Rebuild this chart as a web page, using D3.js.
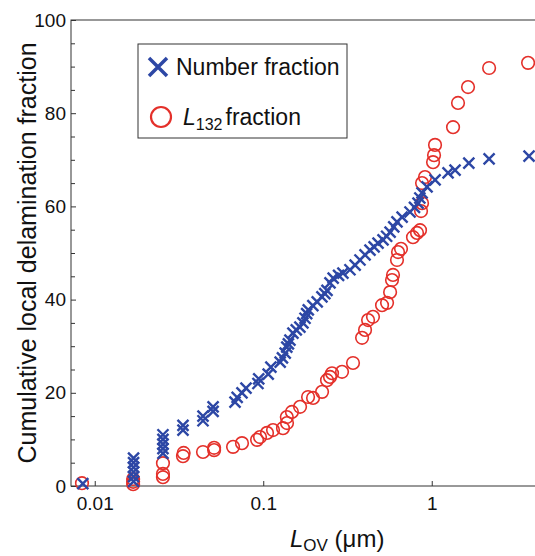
<!DOCTYPE html>
<html>
<head>
<meta charset="utf-8">
<script src="https://cdn.jsdelivr.net/npm/d3@7"></script>
<style>
  body { margin: 0; background: #fff; }
  svg { display: block; font-family: "Liberation Sans", Arial, Helvetica, sans-serif; }
</style>
</head>
<body>
<div id="chart"></div>
<script>
// ---- data ----
// Number fraction (blue crosses): [L_OV in um, cumulative %]
const numberFraction = [
    [0.0085, 0.5],
    [0.017, 1], [0.017, 2], [0.017, 3], [0.017, 4], [0.017, 5], [0.017, 6],
    [0.0254, 7], [0.0254, 8], [0.0254, 9], [0.0254, 10], [0.0254, 11],
    [0.0334, 12], [0.0334, 13],
    [0.0439, 14], [0.0439, 15],
    [0.0504, 16], [0.0504, 17],
    [0.068, 18], [0.070, 19],
    [0.0748, 20], [0.079, 21],
    [0.093, 22], [0.094, 23],
    [0.107, 24], [0.111, 25.5],
    [0.126, 26.6], [0.13, 27.5],
    [0.135, 28.5], [0.138, 29.8], [0.141, 30.5], [0.144, 31.3], [0.150, 32.8],
    [0.157, 33.5], [0.165, 34.1], [0.172, 35], [0.177, 36], [0.181, 37],
    [0.185, 37.8], [0.197, 38.7], [0.209, 39.5], [0.223, 40.6], [0.232, 41.3],
    [0.239, 42], [0.249, 43.6], [0.26, 44.6], [0.28, 45.2], [0.297, 45.7],
    [0.327, 46.4], [0.351, 47.4], [0.375, 48.5], [0.402, 49.6], [0.43, 50.6],
    [0.455, 51.3], [0.48, 52.1], [0.514, 52.8], [0.54, 53.6], [0.566, 54.5],
    [0.595, 55.6], [0.622, 56.7], [0.667, 57.7], [0.743, 58.8], [0.79, 59.8],
    [0.829, 60.7], [0.85, 61.8], [0.876, 62.9], [0.938, 64.2], [1.047, 65.7],
    [1.25, 67.2], [1.375, 67.8], [1.66, 69.3], [2.19, 70.2], [3.78, 70.8]
];

// L132 fraction (red circles)
const l132Fraction = [
    [0.0084, 0.6],
    [0.0169, 0.4], [0.0169, 0.9], [0.0169, 1.5],
    [0.0254, 1.9], [0.0254, 2.6], [0.0254, 4.9],
    [0.0334, 6.4], [0.0337, 7.1],
    [0.0439, 7.3],
    [0.0511, 7.7], [0.0511, 8.2],
    [0.0662, 8.4], [0.0748, 9.2], [0.0919, 9.9], [0.0957, 10.5],
    [0.1053, 11.4], [0.1143, 12], [0.131, 12.4], [0.1384, 13.5], [0.138, 14.8],
    [0.148, 15.9], [0.1654, 17], [0.1845, 19.1], [0.1975, 18.9], [0.2234, 20.2],
    [0.239, 22.7], [0.249, 23.4], [0.256, 24.2], [0.2935, 24.5], [0.341, 26.4],
    [0.386, 31.8], [0.402, 33.5], [0.419, 35.6], [0.448, 36.3], [0.507, 38.8],
    [0.543, 39.3], [0.566, 41.6], [0.581, 44.2], [0.589, 45.3], [0.622, 48.5],
    [0.631, 50.2], [0.657, 50.9], [0.774, 53.4], [0.818, 54.3], [0.852, 54.9],
    [0.864, 59.0], [0.876, 60.7], [0.876, 65.0], [0.912, 66.3], [1.018, 69.5],
    [1.032, 71], [1.046, 73.2], [1.338, 77], [1.432, 82.2], [1.642, 85.6],
    [2.19, 89.7], [3.73, 90.8]
];

const xTicks = [0.01, 0.1, 1];
const xTickLabels = ['0.01', '0.1', '1'];
const yTicks = [0, 20, 40, 60, 80, 100];
const yMinorTicks = [5, 10, 15, 25, 30, 35, 45, 50, 55, 65, 70, 75, 85, 90, 95];

const blue = '#2d47a5';
const red = '#e4302a';
const axisColor = '#333';

// ---- layout ----
const width = 535, height = 556;
const plot = { left: 71, top: 20, right: 540, bottom: 486 };

const svg = d3.select('#chart').append('svg')
    .attr('width', width)
    .attr('height', height);

svg.append('rect').attr('width', width).attr('height', height).attr('fill', '#fff');

const x = d3.scaleLog()
    .domain([0.00723, 4.39])
    .range([plot.left, plot.right]);

const y = d3.scaleLinear()
    .domain([0, 100])
    .range([plot.bottom, plot.top]);

// Frame (right side falls outside the picture)
svg.append('rect')
    .attr('x', plot.left)
    .attr('y', plot.top)
    .attr('width', plot.right - plot.left)
    .attr('height', plot.bottom - plot.top)
    .attr('fill', 'none')
    .attr('stroke', axisColor)
    .attr('stroke-width', 1);

// Y axis - major ticks with labels
const yAxis = svg.append('g')
    .attr('transform', `translate(${plot.left},0)`)
    .call(d3.axisLeft(y)
        .tickValues(yTicks)
        .tickSizeInner(-5)
        .tickSizeOuter(0)
        .tickPadding(5)
        .tickFormat(d3.format('d')));

// Y axis - minor ticks
const yMinor = svg.append('g')
    .attr('transform', `translate(${plot.left},0)`)
    .call(d3.axisLeft(y)
        .tickValues(yMinorTicks)
        .tickSizeInner(-4)
        .tickSizeOuter(0)
        .tickFormat(''));

// X axis
const xAxis = svg.append('g')
    .attr('transform', `translate(0,${plot.bottom})`)
    .call(d3.axisBottom(x)
        .tickValues(xTicks)
        .tickSizeInner(-5)
        .tickSizeOuter(0)
        .tickPadding(11)
        .tickFormat((d, i) => xTickLabels[i]));

[yAxis, yMinor, xAxis].forEach(g => {
    g.select('.domain').remove();
    g.selectAll('line').attr('stroke', axisColor);
    g.selectAll('text')
        .attr('fill', '#111')
        .style('font-size', '19px')
        .style('font-family', '"Liberation Sans", Arial, Helvetica, sans-serif');
});

// Axis titles
svg.append('text')
    .attr('transform', `translate(36,${(plot.top + plot.bottom) / 2}) rotate(-90)`)
    .attr('text-anchor', 'middle')
    .attr('fill', '#111')
    .style('font-size', '25px')
    .text('Cumulative local delamination fraction');

const xTitle = svg.append('text')
    .attr('x', 290)
    .attr('y', 547)
    .attr('fill', '#111')
    .style('font-size', '24px');
xTitle.append('tspan').style('font-style', 'italic').text('L');
xTitle.append('tspan').attr('dy', 4).style('font-size', '17px').text('OV');
xTitle.append('tspan').attr('dy', -4).text(' (\u03bcm)');

// Markers
const crossPath = s => `M${-s},${-s}L${s},${s}M${-s},${s}L${s},${-s}`;

svg.append('g')
    .selectAll('circle')
    .data(l132Fraction)
    .enter().append('circle')
    .attr('cx', d => x(d[0]))
    .attr('cy', d => y(d[1]))
    .attr('r', 6.3)
    .attr('fill', 'none')
    .attr('stroke', red)
    .attr('stroke-width', 1.6);

svg.append('g')
    .selectAll('path')
    .data(numberFraction)
    .enter().append('path')
    .attr('transform', d => `translate(${x(d[0])},${y(d[1])})`)
    .attr('d', crossPath(5.5))
    .attr('fill', 'none')
    .attr('stroke', blue)
    .attr('stroke-width', 2.4);

// Legend
const legend = svg.append('g');
legend.append('rect')
    .attr('x', 138).attr('y', 44)
    .attr('width', 209).attr('height', 94)
    .attr('fill', '#fff')
    .attr('stroke', axisColor)
    .attr('stroke-width', 1);

legend.append('path')
    .attr('transform', 'translate(158,67)')
    .attr('d', crossPath(9))
    .attr('fill', 'none')
    .attr('stroke', blue)
    .attr('stroke-width', 3.5);

legend.append('text')
    .attr('x', 176).attr('y', 75)
    .attr('fill', '#111')
    .style('font-size', '23px')
    .text('Number fraction');

legend.append('circle')
    .attr('cx', 161).attr('cy', 117)
    .attr('r', 10)
    .attr('fill', 'none')
    .attr('stroke', red)
    .attr('stroke-width', 2.2);

const l2 = legend.append('text')
    .attr('x', 183).attr('y', 125)
    .attr('fill', '#111')
    .style('font-size', '23px');
l2.append('tspan').style('font-style', 'italic').text('L');
l2.append('tspan').attr('dy', 5).style('font-size', '16px').text('132');
l2.append('tspan').attr('dy', -5).attr('dx', 3).text('fraction');
</script>
</body>
</html>
